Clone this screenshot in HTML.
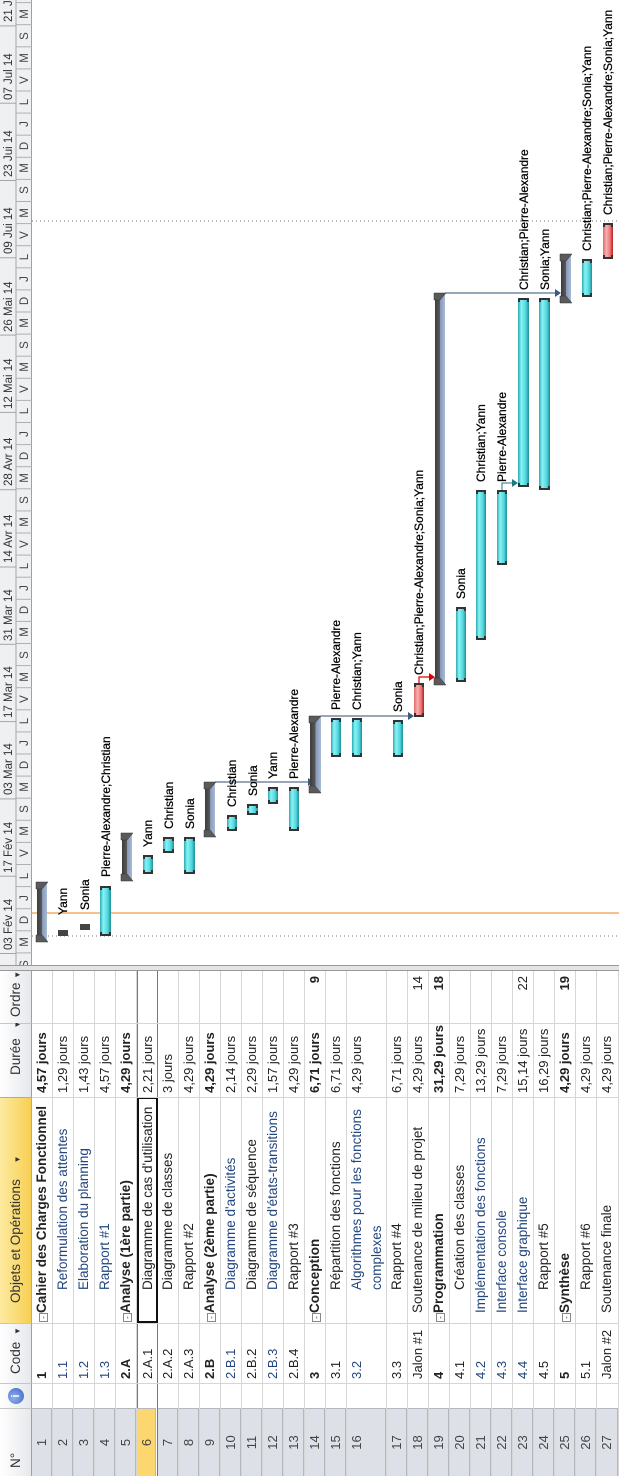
<!DOCTYPE html>
<html><head><meta charset="utf-8">
<style>
html,body{margin:0;padding:0;width:619px;height:1476px;overflow:hidden;background:#fff}
#L{position:absolute;left:0;top:0;width:1476px;height:619px;transform-origin:0 0;transform:translate(0,1476px) rotate(-90deg);font-family:"Liberation Sans",sans-serif;background:#fff;overflow:hidden}
.hd{position:absolute;top:0;height:32px;border-right:1px solid #c6c6c6;border-bottom:1px solid #a0a0a0;background:linear-gradient(#ffffff,#e6e8ec);box-sizing:border-box;font-size:13.5px;color:#333;line-height:31px;white-space:nowrap}
.r{position:absolute;left:0;width:506px;border-bottom:1px solid #d6d6d6;box-sizing:border-box}
.r span{position:absolute;top:0;line-height:20px;font-size:13.5px;white-space:nowrap;color:#222}
.n{left:0;width:68px;text-align:center;height:100%;background:#dde1e7;border-right:1px solid #b4b8be;border-bottom:1px solid #b4b8be;box-sizing:border-box;color:#444!important;font-size:13px!important}
.cd{left:97px;font-size:13px!important}
.nm{left:186px}
.nm.s{left:163px}
.du{left:383px;font-size:13px!important}
.or{left:453px;width:47px;text-align:right;font-size:13px!important}
.b{font-weight:bold}
.bl{color:#23467e!important}
.vl{position:absolute;top:32px;height:587px;width:1px;background:#d6d6d6}
.bx{position:absolute;width:7px;height:7px;border:1px solid #888;top:7px;font-size:8px;line-height:7px;text-align:center;color:#333;background:#fff}
</style></head><body>
<div id="L">
<!-- header -->
<div class="hd" style="left:0;width:68px;padding-left:8px">N°</div>
<div class="hd" style="left:68px;width:25px"><div style="position:absolute;left:4px;top:8px;width:16px;height:16px;border-radius:50%;background:radial-gradient(circle at 40% 35%,#8fb0ee,#3a64c6);color:#fff;font-weight:bold;font-size:11px;line-height:16px;text-align:center">i</div></div>
<div class="hd" style="left:93px;width:60px;padding-left:9px">Code <span style="font-size:8px;margin-left:3px">▼</span></div>
<div class="hd" style="left:153px;width:226px;padding-left:20px;background:linear-gradient(#fdeaa0,#f7cf52);border-color:#d9a83c">Objets et Opérations <span style="font-size:8px;margin-left:12px">▼</span></div>
<div class="hd" style="left:379px;width:74px;padding-left:22px">Durée <span style="font-size:8px;margin-left:6px">▼</span></div>
<div class="hd" style="left:453px;width:53px;padding-left:6px">Ordre <span style="font-size:8px">▼</span></div>

<!-- rows -->
<div class="r" style="top:32px;height:21px"><span class="n">1</span><span class="cd b">1</span><div class="bx" style="left:154px">-</div><span class="nm s b">Cahier des Charges Fonctionnel</span><span class="du b">4,57 jours</span></div>
<div class="r" style="top:53px;height:21px"><span class="n">2</span><span class="cd bl">1.1</span><span class="nm bl">Reformulation des attentes</span><span class="du">1,29 jours</span></div>
<div class="r" style="top:74px;height:21px"><span class="n">3</span><span class="cd bl">1.2</span><span class="nm bl">Elaboration du planning</span><span class="du">1,43 jours</span></div>
<div class="r" style="top:95px;height:21px"><span class="n">4</span><span class="cd bl">1.3</span><span class="nm bl">Rapport #1</span><span class="du">4,57 jours</span></div>
<div class="r" style="top:116px;height:21px"><span class="n">5</span><span class="cd b">2.A</span><div class="bx" style="left:154px">-</div><span class="nm s b">Analyse (1ère partie)</span><span class="du b">4,29 jours</span></div>
<div class="r" style="top:137px;height:21px;border-top:1px solid #777;border-bottom:1px solid #777"><span class="n" style="background:#fcd770;top:-1px">6</span><span class="cd">2.A.1</span><span class="nm">Diagramme de cas d'utilisation</span><span class="du">2,21 jours</span><div style="position:absolute;left:153px;top:-1px;width:226px;height:21px;border:2px solid #111;box-sizing:border-box"></div></div>
<div class="r" style="top:158px;height:21px"><span class="n">7</span><span class="cd">2.A.2</span><span class="nm">Diagramme de classes</span><span class="du">3 jours</span></div>
<div class="r" style="top:179px;height:21px"><span class="n">8</span><span class="cd">2.A.3</span><span class="nm">Rapport #2</span><span class="du">4,29 jours</span></div>
<div class="r" style="top:200px;height:21px"><span class="n">9</span><span class="cd b">2.B</span><div class="bx" style="left:154px">-</div><span class="nm s b">Analyse (2ème partie)</span><span class="du b">4,29 jours</span></div>
<div class="r" style="top:221px;height:21px"><span class="n">10</span><span class="cd bl">2.B.1</span><span class="nm bl">Diagramme d'activités</span><span class="du">2,14 jours</span></div>
<div class="r" style="top:242px;height:21px"><span class="n">11</span><span class="cd">2.B.2</span><span class="nm">Diagramme de séquence</span><span class="du">2,29 jours</span></div>
<div class="r" style="top:263px;height:21px"><span class="n">12</span><span class="cd bl">2.B.3</span><span class="nm bl">Diagramme d'états-transitions</span><span class="du">1,57 jours</span></div>
<div class="r" style="top:284px;height:21px"><span class="n">13</span><span class="cd">2.B.4</span><span class="nm">Rapport #3</span><span class="du">4,29 jours</span></div>
<div class="r" style="top:305px;height:21px"><span class="n">14</span><span class="cd b">3</span><div class="bx" style="left:154px">-</div><span class="nm s b">Conception</span><span class="du b">6,71 jours</span><span class="or b">9</span></div>
<div class="r" style="top:326px;height:21px"><span class="n">15</span><span class="cd">3.1</span><span class="nm">Répartition des fonctions</span><span class="du">6,71 jours</span></div>
<div class="r" style="top:347px;height:40px"><span class="n">16</span><span class="cd bl">3.2</span><span class="nm bl">Algorithmes pour les fonctions<br>complexes</span><span class="du">4,29 jours</span></div>
<div class="r" style="top:387px;height:21px"><span class="n">17</span><span class="cd">3.3</span><span class="nm">Rapport #4</span><span class="du">6,71 jours</span></div>
<div class="r" style="top:408px;height:21px"><span class="n">18</span><span class="cd">Jalon #1</span><span class="nm s">Soutenance de milieu de projet</span><span class="du">4,29 jours</span><span class="or">14</span></div>
<div class="r" style="top:429px;height:21px"><span class="n">19</span><span class="cd b">4</span><div class="bx" style="left:154px">-</div><span class="nm s b">Programmation</span><span class="du b">31,29 jours</span><span class="or b">18</span></div>
<div class="r" style="top:450px;height:21px"><span class="n">20</span><span class="cd">4.1</span><span class="nm">Création des classes</span><span class="du">7,29 jours</span></div>
<div class="r" style="top:471px;height:21px"><span class="n">21</span><span class="cd bl">4.2</span><span class="nm s bl">Implémentation des fonctions</span><span class="du">13,29 jours</span></div>
<div class="r" style="top:492px;height:21px"><span class="n">22</span><span class="cd bl">4.3</span><span class="nm s bl">Interface console</span><span class="du">7,29 jours</span></div>
<div class="r" style="top:513px;height:21px"><span class="n">23</span><span class="cd bl">4.4</span><span class="nm s bl">Interface graphique</span><span class="du">15,14 jours</span><span class="or">22</span></div>
<div class="r" style="top:534px;height:21px"><span class="n">24</span><span class="cd">4.5</span><span class="nm">Rapport #5</span><span class="du">16,29 jours</span></div>
<div class="r" style="top:555px;height:21px"><span class="n">25</span><span class="cd b">5</span><div class="bx" style="left:154px">-</div><span class="nm s b">Synthèse</span><span class="du b">4,29 jours</span><span class="or b">19</span></div>
<div class="r" style="top:576px;height:21px"><span class="n">26</span><span class="cd">5.1</span><span class="nm">Rapport #6</span><span class="du">4,29 jours</span></div>
<div class="r" style="top:597px;height:22px"><span class="n">27</span><span class="cd">Jalon #2</span><span class="nm s">Soutenance finale</span><span class="du">4,29 jours</span></div>
<div class="vl" style="left:92px"></div><div class="vl" style="left:152px"></div><div class="vl" style="left:378px"></div><div class="vl" style="left:452px"></div>
<div style="position:absolute;left:505px;top:0;width:6px;height:619px;background:#e4e4e4;border-left:1px solid #999;border-right:1px solid #999;box-sizing:border-box"></div>

<svg style="position:absolute;left:0;top:0" width="1476" height="619" viewBox="0 0 1476 619" font-family="Liberation Sans, sans-serif">
<defs>
<clipPath id="cp"><rect x="511" y="0" width="965" height="619"/></clipPath>
<linearGradient id="tb" x1="0" y1="0" x2="0" y2="1"><stop offset="0" stop-color="#2aa9b1"/><stop offset="0.3" stop-color="#8af2f6"/><stop offset="0.7" stop-color="#52d6dd"/><stop offset="1" stop-color="#1d8e95"/></linearGradient>
<linearGradient id="rb" x1="0" y1="0" x2="0" y2="1"><stop offset="0" stop-color="#e06a6a"/><stop offset="0.35" stop-color="#f7b0b0"/><stop offset="0.7" stop-color="#e77"/><stop offset="1" stop-color="#b32222"/></linearGradient>
<linearGradient id="sb" x1="0" y1="0" x2="0" y2="1"><stop offset="0" stop-color="#3c3c3c"/><stop offset="0.5" stop-color="#5a5a5a"/><stop offset="0.5" stop-color="#8598b8"/><stop offset="1" stop-color="#a9bad4"/></linearGradient>
</defs>
<g clip-path="url(#cp)">
<rect x="511" y="0" width="965" height="32" fill="#eff0f2"/>
<line x1="511" y1="16" x2="1476" y2="16" stroke="#a6a6a6"/>
<line x1="511" y1="31.5" x2="1476" y2="31.5" stroke="#a0a0a0"/>
<g stroke="#a6a6a6">
<line x1="522.5" y1="0" x2="522.5" y2="16"/><line x1="599.8" y1="0" x2="599.8" y2="16"/><line x1="677.1" y1="0" x2="677.1" y2="16"/><line x1="754.4" y1="0" x2="754.4" y2="16"/><line x1="831.7" y1="0" x2="831.7" y2="16"/><line x1="909" y1="0" x2="909" y2="16"/><line x1="986.3" y1="0" x2="986.3" y2="16"/><line x1="1063.6" y1="0" x2="1063.6" y2="16"/><line x1="1140.9" y1="0" x2="1140.9" y2="16"/><line x1="1218.2" y1="0" x2="1218.2" y2="16"/><line x1="1295.5" y1="0" x2="1295.5" y2="16"/><line x1="1372.8" y1="0" x2="1372.8" y2="16"/><line x1="1450.1" y1="0" x2="1450.1" y2="16"/>
</g>
<g font-size="11.5" fill="#333">
<text x="526" y="12">03 Fév 14</text><text x="603" y="12">17 Fév 14</text><text x="681" y="12">03 Mar 14</text><text x="758" y="12">17 Mar 14</text><text x="835" y="12">31 Mar 14</text><text x="913" y="12">14 Avr 14</text><text x="990" y="12">28 Avr 14</text><text x="1067" y="12">12 Mai 14</text><text x="1144" y="12">26 Mai 14</text><text x="1222" y="12">09 Jui 14</text><text x="1299" y="12">23 Jui 14</text><text x="1376" y="12">07 Jul 14</text><text x="1454" y="12">21 Jul 14</text>
</g>
<g stroke="#b0b0b0">
<line x1="523.1" y1="16" x2="523.1" y2="32"/><line x1="545.2" y1="16" x2="545.2" y2="32"/><line x1="567.3" y1="16" x2="567.3" y2="32"/><line x1="589.4" y1="16" x2="589.4" y2="32"/><line x1="611.5" y1="16" x2="611.5" y2="32"/><line x1="633.6" y1="16" x2="633.6" y2="32"/><line x1="655.7" y1="16" x2="655.7" y2="32"/><line x1="677.8" y1="16" x2="677.8" y2="32"/><line x1="699.9" y1="16" x2="699.9" y2="32"/><line x1="722" y1="16" x2="722" y2="32"/><line x1="744.1" y1="16" x2="744.1" y2="32"/><line x1="766.2" y1="16" x2="766.2" y2="32"/><line x1="788.3" y1="16" x2="788.3" y2="32"/><line x1="810.4" y1="16" x2="810.4" y2="32"/><line x1="832.5" y1="16" x2="832.5" y2="32"/><line x1="854.6" y1="16" x2="854.6" y2="32"/><line x1="876.7" y1="16" x2="876.7" y2="32"/><line x1="898.8" y1="16" x2="898.8" y2="32"/><line x1="920.9" y1="16" x2="920.9" y2="32"/><line x1="943" y1="16" x2="943" y2="32"/><line x1="965.1" y1="16" x2="965.1" y2="32"/><line x1="987.2" y1="16" x2="987.2" y2="32"/><line x1="1009.3" y1="16" x2="1009.3" y2="32"/><line x1="1031.4" y1="16" x2="1031.4" y2="32"/><line x1="1053.5" y1="16" x2="1053.5" y2="32"/><line x1="1075.6" y1="16" x2="1075.6" y2="32"/><line x1="1097.7" y1="16" x2="1097.7" y2="32"/><line x1="1119.8" y1="16" x2="1119.8" y2="32"/><line x1="1141.9" y1="16" x2="1141.9" y2="32"/><line x1="1164" y1="16" x2="1164" y2="32"/><line x1="1186.1" y1="16" x2="1186.1" y2="32"/><line x1="1208.2" y1="16" x2="1208.2" y2="32"/><line x1="1230.3" y1="16" x2="1230.3" y2="32"/><line x1="1252.4" y1="16" x2="1252.4" y2="32"/><line x1="1274.5" y1="16" x2="1274.5" y2="32"/><line x1="1296.6" y1="16" x2="1296.6" y2="32"/><line x1="1318.7" y1="16" x2="1318.7" y2="32"/><line x1="1340.8" y1="16" x2="1340.8" y2="32"/><line x1="1362.9" y1="16" x2="1362.9" y2="32"/><line x1="1385" y1="16" x2="1385" y2="32"/><line x1="1407.1" y1="16" x2="1407.1" y2="32"/><line x1="1429.2" y1="16" x2="1429.2" y2="32"/><line x1="1451.3" y1="16" x2="1451.3" y2="32"/><line x1="1473.4" y1="16" x2="1473.4" y2="32"/>
</g>
<g font-size="11.5" fill="#444" text-anchor="middle">
<text x="512" y="28">S</text><text x="534" y="28">M</text><text x="556" y="28">D</text><text x="578" y="28">J</text><text x="600" y="28">L</text><text x="623" y="28">V</text><text x="645" y="28">M</text><text x="667" y="28">S</text><text x="689" y="28">M</text><text x="711" y="28">D</text><text x="733" y="28">J</text><text x="755" y="28">L</text><text x="777" y="28">V</text><text x="799" y="28">M</text><text x="821" y="28">S</text><text x="844" y="28">M</text><text x="866" y="28">D</text><text x="888" y="28">J</text><text x="910" y="28">L</text><text x="932" y="28">V</text><text x="954" y="28">M</text><text x="976" y="28">S</text><text x="998" y="28">M</text><text x="1020" y="28">D</text><text x="1042" y="28">J</text><text x="1065" y="28">L</text><text x="1087" y="28">V</text><text x="1109" y="28">M</text><text x="1131" y="28">S</text><text x="1153" y="28">M</text><text x="1175" y="28">D</text><text x="1197" y="28">J</text><text x="1219" y="28">L</text><text x="1241" y="28">V</text><text x="1263" y="28">M</text><text x="1286" y="28">S</text><text x="1308" y="28">M</text><text x="1330" y="28">D</text><text x="1352" y="28">J</text><text x="1374" y="28">L</text><text x="1396" y="28">V</text><text x="1418" y="28">M</text><text x="1440" y="28">S</text><text x="1462" y="28">M</text>
</g>

<line x1="563" y1="32" x2="563" y2="619" stroke="#f39a4a" stroke-width="1.2"/>
<line x1="540" y1="32" x2="540" y2="619" stroke="#777" stroke-dasharray="1,3"/>
<line x1="1255" y1="32" x2="1255" y2="619" stroke="#777" stroke-dasharray="1,3"/>

<!-- links -->
<g fill="none" stroke="#2f4f6f" stroke-width="1">
<path d="M694,215 V308"/><path d="M760,321 V410"/><path d="M1183,445 V556"/>
</g>
<g fill="#3d5a80"><path d="M690,308 h8 l-4,6z"/><path d="M756,408 h8 l-4,6z"/><path d="M1179,555 h8 l-4,6z"/></g>
<path d="M793,419 H799 V430" fill="none" stroke="#d00" stroke-width="1.2"/><path d="M795,429 h8 l-4,6z" fill="#d00"/>
<path d="M986,502 H993 V513" fill="none" stroke="#1d7a80"/><path d="M989,512 h8 l-4,6z" fill="#1d7a80"/>

<!-- summary bars -->
<g>
<rect x="534" y="37" width="60" height="10" fill="url(#sb)"/>
<rect x="595" y="122" width="48" height="10" fill="url(#sb)"/>
<rect x="639" y="205" width="55" height="10" fill="url(#sb)"/>
<rect x="683" y="310" width="77" height="11" fill="url(#sb)"/>
<rect x="791" y="435" width="392" height="10" fill="url(#sb)"/>
<rect x="1173" y="561" width="49" height="10" fill="url(#sb)"/>
</g>
<g fill="#5a5a5a" stroke="#333" stroke-width="0.5">
<path d="M534,36 h7 v6 l-7,6z"/><path d="M594,36 h-7 v6 l7,6z"/>
<path d="M595,121 h7 v6 l-7,6z"/><path d="M643,121 h-7 v6 l7,6z"/>
<path d="M639,204 h7 v6 l-7,6z"/><path d="M694,204 h-7 v6 l7,6z"/>
<path d="M683,309 h7 v6 l-7,6z"/><path d="M760,309 h-7 v6 l7,6z"/>
<path d="M791,434 h7 v6 l-7,6z"/><path d="M1183,434 h-7 v6 l7,6z"/>
<path d="M1173,560 h7 v6 l-7,6z"/><path d="M1222,560 h-7 v6 l7,6z"/>
</g>

<!-- task bars -->
<g>
<rect x="540" y="58" width="6" height="10" fill="#444"/>
<rect x="546" y="80" width="6" height="10" fill="#444"/>
<rect x="540" y="100" width="50" height="11" fill="url(#tb)"/>
<rect x="602" y="143" width="19" height="10" fill="url(#tb)"/>
<rect x="623" y="163" width="16" height="11" fill="url(#tb)"/>
<rect x="602" y="184" width="37" height="11" fill="url(#tb)"/>
<rect x="645" y="227" width="16" height="10" fill="url(#tb)"/>
<rect x="661" y="247" width="11" height="11" fill="url(#tb)"/>
<rect x="672" y="268" width="17" height="10" fill="url(#tb)"/>
<rect x="645" y="289" width="44" height="10" fill="url(#tb)"/>
<rect x="719" y="331" width="39" height="10" fill="url(#tb)"/>
<rect x="719" y="352" width="39" height="10" fill="url(#tb)"/>
<rect x="719" y="393" width="37" height="10" fill="url(#tb)"/>
<rect x="759" y="414" width="34" height="10" fill="url(#rb)"/>
<rect x="794" y="456" width="75" height="10" fill="url(#tb)"/>
<rect x="836" y="476" width="150" height="10" fill="url(#tb)"/>
<rect x="911" y="497" width="75" height="10" fill="url(#tb)"/>
<rect x="989" y="518" width="189" height="11" fill="url(#tb)"/>
<rect x="986" y="539" width="192" height="11" fill="url(#tb)"/>
<rect x="1179" y="582" width="38" height="10" fill="url(#tb)"/>
<rect x="1217" y="603" width="36" height="10" fill="url(#rb)"/>
</g>
<g fill="#333">
<path d="M540,100h4v2h-2v7h2v2h-4z"/><path d="M590,100h-4v2h2v7h-2v2h4z"/>
<path d="M602,143h4v2h-2v6h2v2h-4z"/><path d="M621,143h-4v2h2v6h-2v2h4z"/>
<path d="M623,163h4v2h-2v7h2v2h-4z"/><path d="M639,163h-4v2h2v7h-2v2h4z"/>
<path d="M602,184h4v2h-2v7h2v2h-4z"/><path d="M639,184h-4v2h2v7h-2v2h4z"/>
<path d="M645,227h4v2h-2v6h2v2h-4z"/><path d="M661,227h-4v2h2v6h-2v2h4z"/>
<path d="M661,247h4v2h-2v7h2v2h-4z"/><path d="M672,247h-4v2h2v7h-2v2h4z"/>
<path d="M672,268h4v2h-2v6h2v2h-4z"/><path d="M689,268h-4v2h2v6h-2v2h4z"/>
<path d="M645,289h4v2h-2v6h2v2h-4z"/><path d="M689,289h-4v2h2v6h-2v2h4z"/>
<path d="M719,331h4v2h-2v6h2v2h-4z"/><path d="M758,331h-4v2h2v6h-2v2h4z"/>
<path d="M719,352h4v2h-2v6h2v2h-4z"/><path d="M758,352h-4v2h2v6h-2v2h4z"/>
<path d="M719,393h4v2h-2v6h2v2h-4z"/><path d="M756,393h-4v2h2v6h-2v2h4z"/>
<path d="M759,414h4v2h-2v6h2v2h-4z"/><path d="M793,414h-4v2h2v6h-2v2h4z"/>
<path d="M794,456h4v2h-2v6h2v2h-4z"/><path d="M869,456h-4v2h2v6h-2v2h4z"/>
<path d="M836,476h4v2h-2v6h2v2h-4z"/><path d="M986,476h-4v2h2v6h-2v2h4z"/>
<path d="M911,497h4v2h-2v6h2v2h-4z"/><path d="M986,497h-4v2h2v6h-2v2h4z"/>
<path d="M989,518h4v2h-2v7h2v2h-4z"/><path d="M1178,518h-4v2h2v7h-2v2h4z"/>
<path d="M986,539h4v2h-2v7h2v2h-4z"/><path d="M1178,539h-4v2h2v7h-2v2h4z"/>
<path d="M1179,582h4v2h-2v6h2v2h-4z"/><path d="M1217,582h-4v2h2v6h-2v2h4z"/>
<path d="M1217,603h4v2h-2v6h2v2h-4z"/><path d="M1253,603h-4v2h2v6h-2v2h4z"/>
</g>

<!-- labels -->
<g font-size="12" fill="#000" stroke="#000" stroke-width="0.25">
<text x="561" y="67">Yann</text>
<text x="566" y="89">Sonia</text>
<text x="599" y="110">Pierre-Alexandre;Christian</text>
<text x="629" y="152">Yann</text>
<text x="647" y="173">Christian</text>
<text x="647" y="194">Sonia</text>
<text x="669" y="236">Christian</text>
<text x="680" y="257">Sonia</text>
<text x="697" y="277">Yann</text>
<text x="697" y="298">Pierre-Alexandre</text>
<text x="766" y="340">Pierre-Alexandre</text>
<text x="766" y="361">Christian;Yann</text>
<text x="764" y="402">Sonia</text>
<text x="801" y="423">Christian;Pierre-Alexandre;Sonia;Yann</text>
<text x="877" y="465">Sonia</text>
<text x="994" y="485">Christian;Yann</text>
<text x="994" y="506">Pierre-Alexandre</text>
<text x="1186" y="528">Christian;Pierre-Alexandre</text>
<text x="1186" y="549">Sonia;Yann</text>
<text x="1225" y="591">Christian;Pierre-Alexandre;Sonia;Yann</text>
<text x="1261" y="612">Christian;Pierre-Alexandre;Sonia;Yann</text>
</g>
</g>
</svg>
</div>
</body></html>
